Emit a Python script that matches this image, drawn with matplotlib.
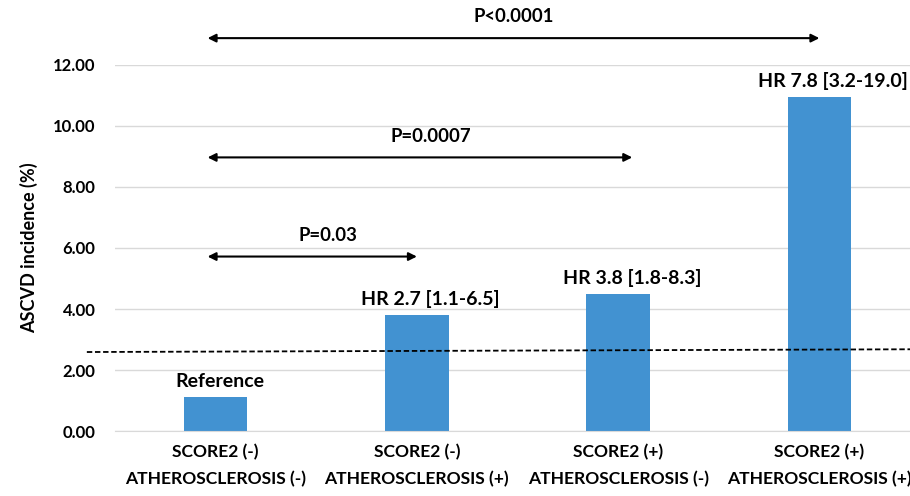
import matplotlib.pyplot as plt

plt.rcParams["font.family"] = ["Lato", "DejaVu Sans"]
plt.rcParams["font.weight"] = "bold"

categories = [
    "SCORE2 (-)\nATHEROSCLEROSIS (-)",
    "SCORE2 (-)\nATHEROSCLEROSIS (+)",
    "SCORE2 (+)\nATHEROSCLEROSIS (-)",
    "SCORE2 (+)\nATHEROSCLEROSIS (+)",
]
incidence = [1.12, 3.80, 4.49, 10.95]
hr_labels = ["Reference", "HR 2.7 [1.1-6.5]", "HR 3.8 [1.8-8.3]", "HR 7.8 [3.2-19.0]"]

# p-value arrows from the reference group: text, arrow end (category units), height, text x
p_texts = ["P=0.03", "P=0.0007", "P<0.0001"]
p_ends = [1.0, 2.07, 3.0]
p_heights = [5.72, 8.97, 12.88]
p_text_x = [0.56, 1.07, 1.48]

baseline = [2.59, 2.68]  # dashed line, left and right end

BAR_COLOR = "#4292d1"

fig = plt.figure(figsize=(9.1, 4.96), dpi=100)
ax = fig.add_axes([0.1264, 0.131, 0.8846, 0.738])

x = list(range(len(categories)))
ax.bar(x, incidence, width=0.315, color=BAR_COLOR, zorder=2)

ax.set_xlim(-0.5, 3.5)
ax.set_ylim(0, 12)
ax.set_yticks([0, 2, 4, 6, 8, 10, 12])
ax.set_yticklabels([f"{v:.2f}" for v in [0, 2, 4, 6, 8, 10, 12]])
ax.set_xticks(x)
ax.set_xticklabels(categories, linespacing=1.85)
ax.tick_params(axis="y", length=0, pad=14, labelsize=12)
ax.tick_params(axis="x", length=0, pad=9, labelsize=12.6)
ax.grid(axis="y", color="#d9d9d9", linewidth=1, zorder=0)
for side in ["top", "right", "left"]:
    ax.spines[side].set_visible(False)
ax.spines["bottom"].set_color("#d9d9d9")
ax.set_ylabel("ASCVD incidence (%)", fontsize=13, fontweight="bold", labelpad=11)

# HR labels above each bar
for i, (val, lab) in enumerate(zip(incidence, hr_labels)):
    dx = 3 if i == 0 else 10
    ax.annotate(lab, xy=(i, val), xytext=(dx, 5), textcoords="offset points",
                ha="center", va="bottom", fontsize=14, annotation_clip=False)

# dashed reference line across the plot
ax.plot([-0.64, 3.46], baseline, linestyle=(0, (3, 1.5)), color="black",
        linewidth=1.3, clip_on=False, zorder=3)

# p-value arrows
for ptxt, end, yy, tx in zip(p_texts, p_ends, p_heights, p_text_x):
    ax.annotate("", xy=(end, yy), xytext=(-0.04, yy),
                arrowprops=dict(arrowstyle="<|-|>", color="black", lw=1.5,
                                mutation_scale=12, shrinkA=0, shrinkB=0),
                annotation_clip=False)
    ax.text(tx, yy + 0.42, ptxt, ha="center", va="bottom", fontsize=13.3,
            clip_on=False)

fig.savefig("out.png", dpi=100)
